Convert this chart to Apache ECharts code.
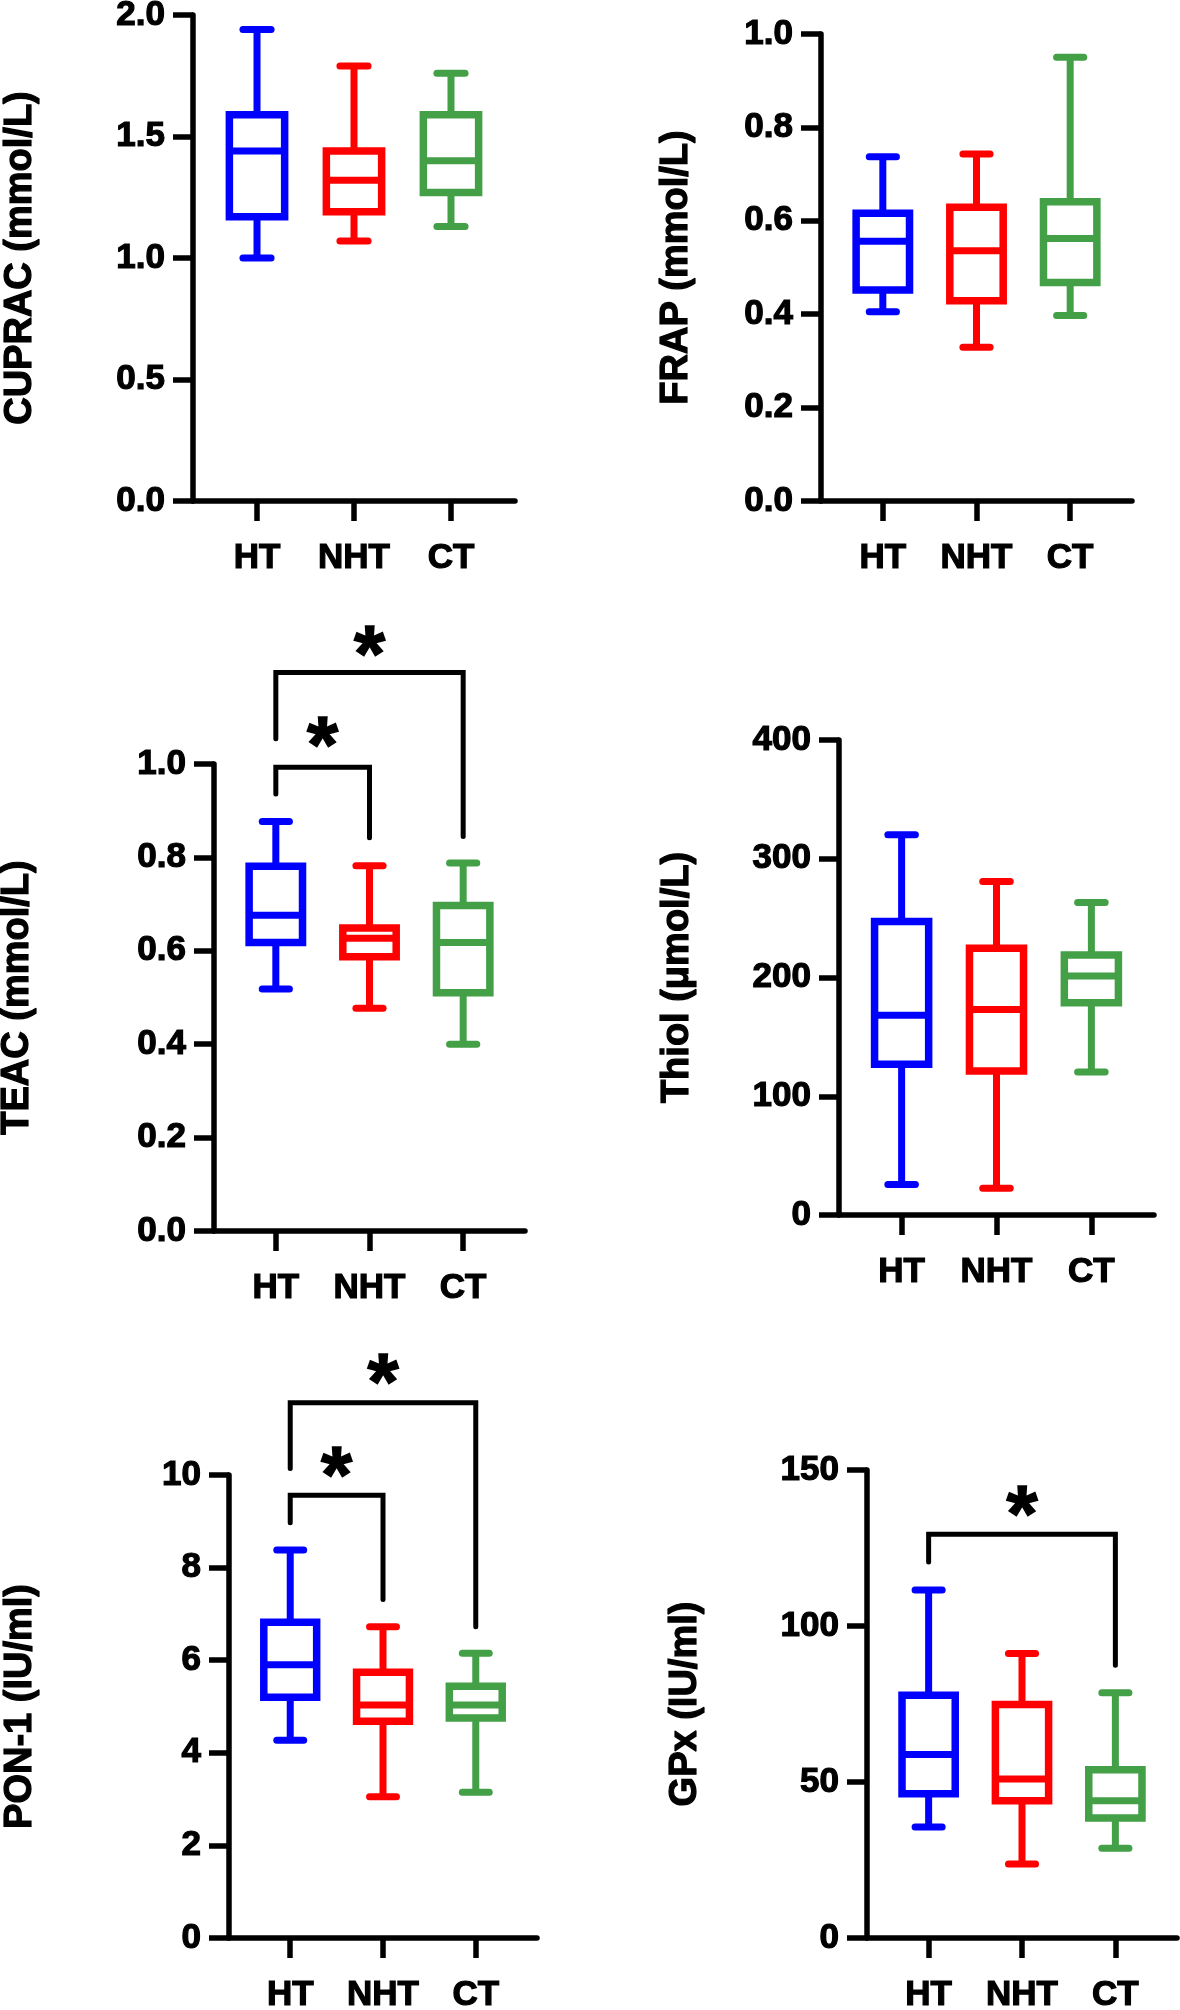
<!DOCTYPE html>
<html>
<head>
<meta charset="utf-8">
<script src="https://cdn.jsdelivr.net/npm/echarts@6/dist/echarts.min.js"></script>
<style>
html,body{margin:0;padding:0;background:#fff}
#chart{width:1180px;height:2010px}
</style>
</head>
<body>
<div id="chart"></div>
<script>
var groups = ['HT', 'NHT', 'CT'];
var groupColors = ['#0000ff', '#ff0000', '#43a047'];

// min, Q1, median, Q3, max  (HT, NHT, CT)
var cuprac = [[1.00, 1.17, 1.44, 1.59, 1.94], [1.07, 1.19, 1.32, 1.44, 1.79], [1.13, 1.27, 1.40, 1.59, 1.76]];
var frap = [[0.405, 0.452, 0.556, 0.616, 0.737], [0.329, 0.429, 0.536, 0.629, 0.743], [0.397, 0.468, 0.562, 0.641, 0.950]];
var teac = [[0.518, 0.618, 0.676, 0.781, 0.877], [0.477, 0.587, 0.627, 0.649, 0.782], [0.400, 0.510, 0.618, 0.697, 0.788]];
var thiol = [[25.6, 126.9, 168.2, 247.1, 320.3], [22.5, 121.3, 173.1, 224.6, 280.8], [120.5, 178.7, 201.3, 218.9, 263.2]];
var pon1 = [[4.27, 5.20, 5.90, 6.82, 8.38], [3.05, 4.68, 5.03, 5.74, 6.72], [3.15, 4.75, 5.03, 5.44, 6.15]];
var gpx = [[35.6, 46.2, 58.8, 77.8, 111.5], [23.7, 44.0, 51.0, 74.8, 91.2], [28.8, 38.5, 44.0, 53.9, 78.6]];

// significance brackets: from, to, left leg end, bar level, right leg end, star level
var teacSig = [[0, 1, 0.936, 0.993, 0.842, 1.066], [0, 2, 1.054, 1.196, 0.845, 1.261]];
var pon1Sig = [[0, 1, 8.97, 9.56, 7.31, 10.27], [0, 2, 10.14, 11.56, 6.72, 12.27]];
var gpxSig = [[0, 2, 120.5, 129.4, 87.4, 139.9]];

// y axis max / step
var yMax = [2, 1, 1, 400, 10, 150];
var yStep = [0.5, 0.2, 0.2, 100, 2, 50];
var yTitles = ['CUPRAC (mmol/L)', 'FRAP (mmol/L)', 'TEAC (mmol/L)', 'Thiol (\u03bcmol/L)', 'PON-1 (IU/ml)', 'GPx (IU/ml)'];

var FONT = '"Liberation Sans", Arial, sans-serif';

var panels = [
  {box: cuprac, sig: null, digits: 1, rect: [193, 15, 322, 486], gap: 152},
  {box: frap, sig: null, digits: 1, rect: [821, 34, 311, 467], gap: 124},
  {box: teac, sig: teacSig, digits: 1, rect: [214, 764, 311, 467], gap: 176},
  {box: thiol, sig: null, digits: 0, rect: [839, 740, 315, 475], gap: 141},
  {box: pon1, sig: pon1Sig, digits: 0, rect: [229, 1475, 308, 463], gap: 188},
  {box: gpx, sig: gpxSig, digits: 0, rect: [867, 1470, 310, 468], gap: 161}
];

function drawBox(params, api) {
  var i = api.value(0);
  var p = [1, 2, 3, 4, 5].map(function (d) { return api.coord([i, api.value(d)]); });
  var cx = p[0][0];
  var band = api.size([1, 0])[0];
  var half = band * 0.285, cap = band * 0.145;
  var color = groupColors[params.dataIndex];
  var st = {stroke: color, lineWidth: 7};
  var capSt = {stroke: color, lineWidth: 7, lineCap: 'round'};
  return {
    type: 'group',
    children: [
      {type: 'line', shape: {x1: cx, y1: p[3][1], x2: cx, y2: p[4][1]}, style: st},
      {type: 'line', shape: {x1: cx, y1: p[0][1], x2: cx, y2: p[1][1]}, style: st},
      {type: 'line', shape: {x1: cx - cap, y1: p[4][1], x2: cx + cap, y2: p[4][1]}, style: capSt},
      {type: 'line', shape: {x1: cx - cap, y1: p[0][1], x2: cx + cap, y2: p[0][1]}, style: capSt},
      {type: 'rect', shape: {x: cx - half, y: p[3][1], width: half * 2, height: p[1][1] - p[3][1]},
        style: {fill: '#fff', stroke: color, lineWidth: 7.5}},
      {type: 'line', shape: {x1: cx - half, y1: p[2][1], x2: cx + half, y2: p[2][1]}, style: st}
    ]
  };
}

function drawSig(params, api) {
  var a = api.coord([api.value(0), api.value(2)]);
  var b = api.coord([api.value(0), api.value(3)]);
  var c = api.coord([api.value(1), api.value(3)]);
  var d = api.coord([api.value(1), api.value(4)]);
  var s = api.coord([(api.value(0) + api.value(1)) / 2, api.value(5)]);
  return {
    type: 'group',
    children: [
      {type: 'polyline', shape: {points: [a, b, c, d]},
        style: {stroke: '#000', lineWidth: 5, fill: null, lineJoin: 'miter', lineCap: 'round'}},
      {type: 'text', x: s[0], y: s[1] + 17,
        style: {text: '*', fill: '#000', font: 'bold 80px ' + FONT, align: 'center', verticalAlign: 'middle',
          stroke: '#000', lineWidth: 1.5}}
    ]
  };
}

var option = {animation: false, backgroundColor: '#fff', grid: [], xAxis: [], yAxis: [], series: []};

panels.forEach(function (p, k) {
  option.grid.push({left: p.rect[0], top: p.rect[1], width: p.rect[2], height: p.rect[3],
    containLabel: false, outerBoundsMode: 'none'});
  option.xAxis.push({
    gridIndex: k, type: 'value', min: -0.66, max: 2.66,
    axisLine: {show: true, onZero: false, lineStyle: {color: '#000', width: 5.5}},
    axisTick: {show: true, customValues: [0, 1, 2], length: 20, lineStyle: {color: '#000', width: 5.5}},
    axisLabel: {customValues: [0, 1, 2], formatter: function (v) { return groups[v]; },
      margin: 40, color: '#000', fontSize: 35, fontWeight: 'bold', fontFamily: FONT, lineHeight: 35,
      textBorderColor: '#000', textBorderWidth: 1.2},
    splitLine: {show: false}
  });
  option.yAxis.push({
    gridIndex: k, type: 'value', min: 0, max: yMax[k], interval: yStep[k],
    name: yTitles[k], nameLocation: 'middle', nameGap: p.gap,
    nameTextStyle: {color: '#000', fontSize: 38, fontWeight: 'bold', fontFamily: FONT, lineHeight: 40,
      textBorderColor: '#000', textBorderWidth: 1.2},
    axisLine: {show: true, onZero: false, lineStyle: {color: '#000', width: 5.5}},
    axisTick: {show: true, length: 20, lineStyle: {color: '#000', width: 5.5}},
    axisLabel: {margin: 28, color: '#000', fontSize: 35, fontWeight: 'bold', fontFamily: FONT,
      textBorderColor: '#000', textBorderWidth: 1.2,
      formatter: function (v) { return v.toFixed(p.digits); }},
    splitLine: {show: false}
  });
  option.series.push({
    type: 'custom', xAxisIndex: k, yAxisIndex: k, renderItem: drawBox, silent: true,
    encode: {x: 0, y: [1, 2, 3, 4, 5]},
    data: p.box.map(function (b, i) { return [i].concat(b); })
  });
  if (p.sig) {
    option.series.push({
      type: 'custom', xAxisIndex: k, yAxisIndex: k, renderItem: drawSig, silent: true, clip: false,
      encode: {x: [0, 1], y: [2, 3, 4, 5]},
      data: p.sig
    });
  }
});

var chart = echarts.init(document.getElementById('chart'), null, {renderer: 'canvas'});
chart.setOption(option);
</script>
</body>
</html>
